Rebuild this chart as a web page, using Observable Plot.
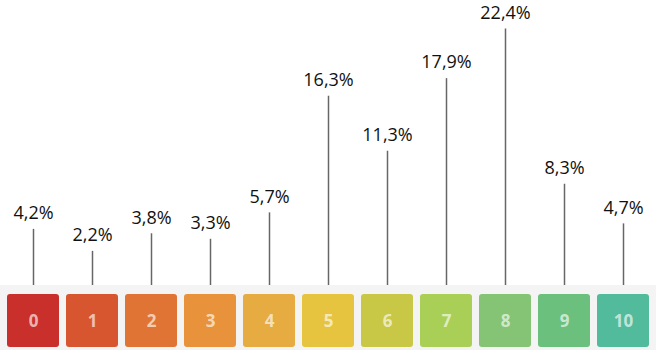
<!DOCTYPE html>
<html>
<head>
<meta charset="utf-8">
<script src="https://cdn.jsdelivr.net/npm/d3@7"></script>
<script src="https://cdn.jsdelivr.net/npm/@observablehq/plot@0.6"></script>
<style>
  html, body { margin: 0; padding: 0; background: #ffffff; }
  #chart svg { display: block; }
</style>
</head>
<body>
<div id="chart"></div>
<script>
const categories = ["0", "1", "2", "3", "4", "5", "6", "7", "8", "9", "10"];
const shares = [4.2, 2.2, 3.8, 3.3, 5.7, 16.3, 11.3, 17.9, 22.4, 8.3, 4.7];
const boxColors = ["#c9302c", "#d8562f", "#df7434", "#e8933b", "#e6ab41", "#e6c440",
                   "#c9c746", "#a9cf57", "#84c474", "#6cc07d", "#52bb9b"];

const data = categories.map((c, i) => ({cat: c, share: shares[i]}));
const fmt = v => v.toFixed(1).replace(".", ",") + "%";
const yMin = -0.9;

const xOpts = {type: "band", domain: categories, paddingInner: 0.118, paddingOuter: 0, axis: null};

const upperPlot = Plot.plot({
  width: 661,
  height: 285,
  marginLeft: 5,
  marginRight: 10,
  marginTop: 0,
  marginBottom: 0,
  x: xOpts,
  y: {domain: [yMin, 25], axis: null},
  style: {fontFamily: "'Open Sans', sans-serif", background: "transparent"},
  marks: [
    Plot.ruleX(data, {x: "cat", y1: "share", y2: () => yMin, stroke: "#666666", strokeWidth: 1.5}),
    Plot.text(data, {x: "cat", y: "share", text: d => fmt(d.share), dy: -16,
      fontSize: 18, fill: "#111111", lineAnchor: "middle"})
  ]
});

const lowerPlot = Plot.plot({
  width: 656,
  height: 65,
  marginLeft: 5,
  marginRight: 5,
  marginTop: 9,
  marginBottom: 3,
  x: xOpts,
  color: {type: "ordinal", domain: categories, range: boxColors},
  style: {fontFamily: "'Open Sans', sans-serif", background: "#f4f4f4"},
  marks: [
    Plot.cell(data, {x: "cat", fill: "cat", inset: 0, rx: 3}),
    Plot.text(data, {x: "cat", text: "cat", fill: "white", fillOpacity: 0.65,
      fontSize: 17, fontWeight: "bold", dy: 1})
  ]
});

const chart = document.getElementById("chart");
chart.appendChild(upperPlot);
chart.appendChild(lowerPlot);
</script>
</body>
</html>
